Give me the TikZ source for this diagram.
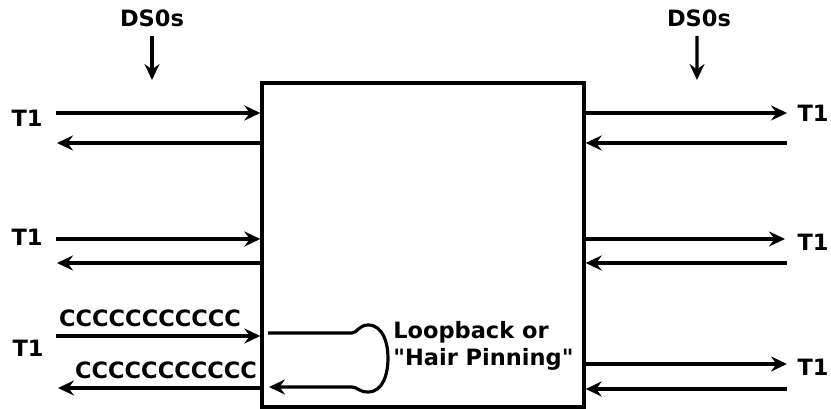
\documentclass[tikz,border=0pt]{standalone}
\usepackage{fontspec}
\setmainfont[Ligatures=TeXOff]{DejaVu Sans}
\usepackage{tikz}
\usetikzlibrary{arrows.meta, positioning}

\begin{document}
\begin{tikzpicture}[
  muxbox/.style = {draw, line width=1.9pt, inner sep=0pt,
                   minimum width=6.44cm, minimum height=6.48cm},
  link/.style   = {line width=1.8pt,
                   -{Stealth[length=0.32cm, width=0.3cm, inset=0.11cm]}},
  lbl/.style    = {font=\bfseries\fontsize{12.8}{15.4}\selectfont,
                   inner sep=0pt},
]
\useasboundingbox (0,0) rectangle (16.62,8.18);

%% ── Cross-connect box ───────────────────────────────────────────────────────
\node[muxbox] (mux) at (8.46,3.28) {};

%% ── DS0s feeds ──────────────────────────────────────────────────────────────
\node[lbl] (ds0L) at (3.04,7.82) {DS0s};
\node[lbl] (ds0R) at (13.98,7.82) {DS0s};
\coordinate (ds0Lend) at (3.04,6.58);
\coordinate (ds0Rend) at (13.94,6.58);
\draw[link] ([yshift=-0.18cm]ds0L.south) -- (ds0Lend);
\draw[link] ([xshift=-0.04cm,yshift=-0.18cm]ds0R.south) -- (ds0Rend);

%% ── Left T1 spans ───────────────────────────────────────────────────────────
\node[lbl] (t1L1) at (0.54,5.82) {T1};
\node[lbl] (t1L2) at (0.54,3.44) {T1};
\node[lbl] (t1L3) at (0.56,1.22) {T1};

\coordinate (l1in)  at (1.12,5.92);
\coordinate (l1out) at (1.14,5.32);
\coordinate (l2in)  at (1.12,3.40);
\coordinate (l2out) at (1.14,2.92);
\coordinate (l3in)  at (1.12,1.46);
\coordinate (l3out) at (1.16,0.42);

\draw[link] (l1in) -- (l1in -| mux.west);
\draw[link] (l1out -| mux.west) -- (l1out);
\draw[link] (l2in) -- (l2in -| mux.west);
\draw[link] (l2out -| mux.west) -- (l2out);
\draw[link] (l3in) -- (l3in -| mux.west);
\draw[link] (l3out -| mux.west) -- (l3out);

\node[lbl] (ccTop) at (3.00,1.82) {CCCCCCCCCCC};
\node[lbl] (ccBot) at (3.32,0.78) {CCCCCCCCCCC};

%% ── Right T1 spans ──────────────────────────────────────────────────────────
\node[lbl] (t1R1) at (16.26,5.92) {T1};
\node[lbl] (t1R2) at (16.26,3.34) {T1};
\node[lbl] (t1R3) at (16.26,0.84) {T1};

\coordinate (r1out) at (15.74,5.92);
\coordinate (r1in)  at (15.74,5.32);
\coordinate (r2out) at (15.70,3.40);
\coordinate (r2in)  at (15.74,2.92);
\coordinate (r3out) at (15.74,0.90);
\coordinate (r3in)  at (15.74,0.40);

\draw[link] (r1out -| mux.east) -- (r1out);
\draw[link] (r1in) -- (r1in -| mux.east);
\draw[link] (r2out -| mux.east) -- (r2out);
\draw[link] (r2in) -- (r2in -| mux.east);
\draw[link] (r3out -| mux.east) -- (r3out);
\draw[link] (r3in) -- (r3in -| mux.east);

%% ── Loopback inside the box ─────────────────────────────────────────────────
\coordinate (lpin)  at (5.36,1.52);
\coordinate (lpout) at (5.38,0.44);
\draw[link] (lpin) -- (7.04,1.52)
  .. controls (7.14,1.52) and (7.18,1.68) .. (7.36,1.68)
  .. controls (7.66,1.68) and (7.76,1.32) .. (7.76,1.02)
  .. controls (7.76,0.70) and (7.66,0.34) .. (7.36,0.34)
  .. controls (7.18,0.34) and (7.14,0.44) .. (7.04,0.44) -- (lpout);

\node[lbl, anchor=west, align=left] (loopTxt) at (7.86,1.26)
  {Loopback or\\"Hair Pinning"};

\end{tikzpicture}
\end{document}
